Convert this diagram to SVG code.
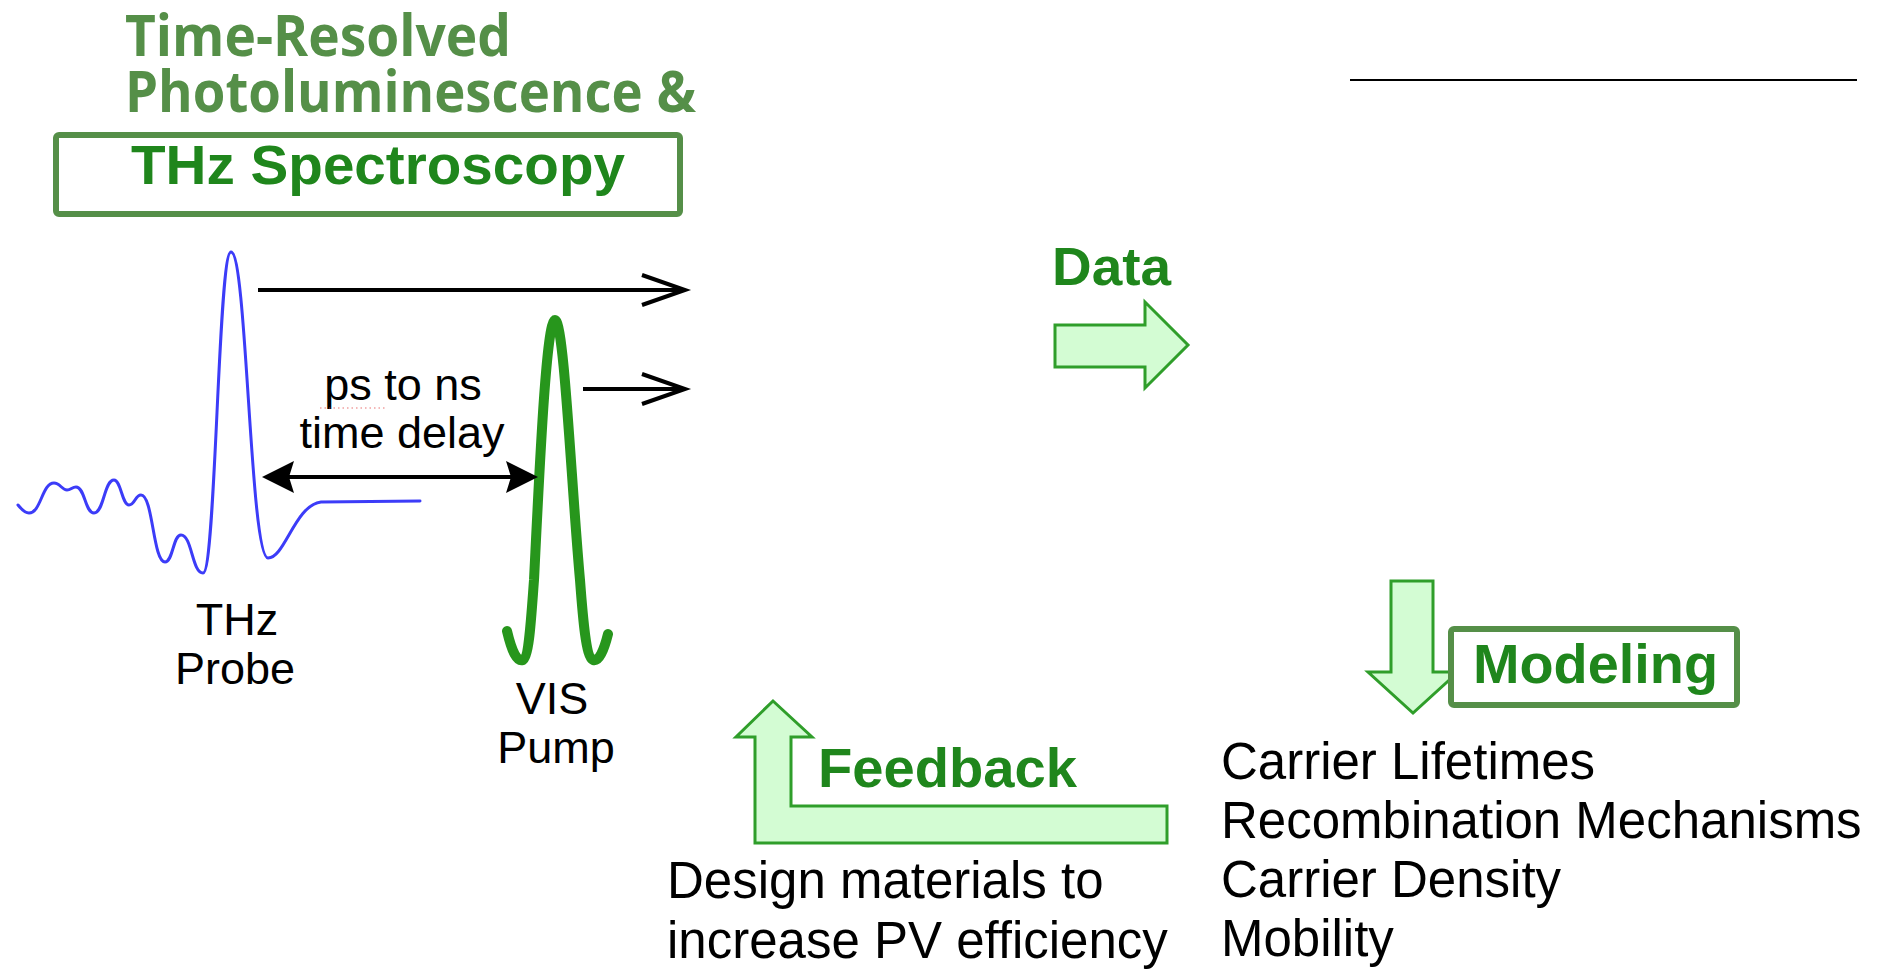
<svg xmlns="http://www.w3.org/2000/svg" width="1885" height="972" viewBox="0 0 1885 972">
  <style>
    .title { font-family: "Open Sans", "Noto Sans", sans-serif; font-weight: 700; font-size: 58px; fill: #558f48; }
    .gbold { font-family: "Liberation Sans", Arial, sans-serif; font-weight: 700; fill: #1f861c; }
    .lbl { font-family: "Liberation Sans", Arial, sans-serif; font-size: 45px; fill: #000; }
    .body { font-family: "Liberation Sans", Arial, sans-serif; font-size: 51px; fill: #000; }
    .frame { fill: none; stroke: #558f48; stroke-width: 6; }
    .block { fill: #d3fcd3; stroke: #2f9e2a; stroke-width: 3; stroke-linejoin: miter; }
    .blk { stroke: #000; stroke-width: 4; fill: none; }
  </style>
  <rect width="1885" height="972" fill="#ffffff"/>

  <g id="title">
    <text class="title" x="125" y="56" textLength="386" lengthAdjust="spacingAndGlyphs">Time-Resolved</text>
    <text class="title" x="125" y="112" textLength="571" lengthAdjust="spacingAndGlyphs">Photoluminescence &amp;</text>
  </g>

  <g id="thz-box">
    <rect class="frame" x="56" y="135" width="624" height="79" rx="3"/>
    <text class="gbold" x="131" y="184" font-size="56" textLength="494" lengthAdjust="spacingAndGlyphs">THz Spectroscopy</text>
  </g>

  <g id="top-right-line">
    <line x1="1350" y1="80" x2="1857" y2="80" stroke="#000" stroke-width="2.2"/>
  </g>

  <g id="thz-probe">
    <path fill="none" stroke="#3c3cf8" stroke-width="3" stroke-linejoin="round" stroke-linecap="round"
      d="M18,505 C22,510 25,513 29,513 C41,513 42,483 54,483 C60,483 62,490 67,490 C71,490 72,487 76,487 C85,487 85,513 94,513 C104,513 104,480 114,480 C121,480 122,505 129,505 C135,505 135,495 141,495 C153,495 153,562 165,562 C173,562 173,535 181,535 C192,535 192,573 203,573 C216,573 218,252 231,252 C247,252 250,558 268,558 C285,558 295,505 321,502 L420,501"/>
    <text class="lbl" x="237" y="635" text-anchor="middle">THz</text>
    <text class="lbl" x="235" y="684" text-anchor="middle">Probe</text>
  </g>

  <g id="vis-pump">
    <path d="M507,631 C512,652 517,662 523,660 C529,657 531,620 534,580 C539,480 546,320 555,320 C564,320 571,480 580,580 C583,620 586,657 593,660 C599,662 604,650 608,634"
      fill="none" stroke="#27961c" stroke-width="10" stroke-linecap="round" stroke-linejoin="round"/>
    <text class="lbl" x="552" y="714" text-anchor="middle">VIS</text>
    <text class="lbl" x="556" y="763" text-anchor="middle">Pump</text>
  </g>

  <g id="delay-label">
    <text class="lbl" x="403" y="400" text-anchor="middle">ps to ns</text>
    <line x1="320" y1="408" x2="385" y2="408" stroke="#e03030" stroke-width="1.5" stroke-dasharray="1.5 3" opacity="0.45"/>
    <text class="lbl" x="402" y="448" text-anchor="middle">time delay</text>
  </g>

  <g id="connectors">
    <line class="blk" x1="258" y1="290" x2="682" y2="290"/>
    <polyline class="blk" stroke-width="5.5" stroke-linejoin="miter" points="642,275 685,290 642,305"/>
    <line class="blk" x1="583" y1="389" x2="682" y2="389"/>
    <polyline class="blk" stroke-width="5.5" stroke-linejoin="miter" points="642,374 685,389 642,404"/>
    <line class="blk" x1="285" y1="477" x2="515" y2="477"/>
    <polygon fill="#000" points="262,477 294,461 289,477 294,493"/>
    <polygon fill="#000" points="538,477 506,461 511,477 506,493"/>
  </g>

  <g id="data">
    <text class="gbold" x="1052" y="285" font-size="54" textLength="119" lengthAdjust="spacingAndGlyphs">Data</text>
    <polygon class="block" points="1055,325 1145,325 1145,302 1188,345 1145,388 1145,367 1055,367"/>
  </g>

  <g id="modeling">
    <polygon class="block" points="1391,581 1433,581 1433,672 1458,672 1413,713 1368,672 1391,672"/>
    <rect class="frame" x="1451" y="629" width="286" height="76" rx="3" style="fill:#ffffff"/>
    <text class="gbold" x="1473" y="683" font-size="56" textLength="245" lengthAdjust="spacingAndGlyphs">Modeling</text>
  </g>

  <g id="results">
    <text class="body" x="1221" y="779">Carrier Lifetimes</text>
    <text class="body" x="1221" y="838">Recombination Mechanisms</text>
    <text class="body" x="1221" y="897">Carrier Density</text>
    <text class="body" x="1221" y="956">Mobility</text>
  </g>

  <g id="feedback">
    <polygon class="block" points="773,701 812,737 791,737 791,806 1167,806 1167,843 755,843 755,737 736,737"/>
    <text class="gbold" x="818" y="787" font-size="56" textLength="259" lengthAdjust="spacingAndGlyphs">Feedback</text>
  </g>

  <g id="design">
    <text class="body" x="667" y="898">Design materials to</text>
    <text class="body" x="667" y="958">increase PV efficiency</text>
  </g>
</svg>
